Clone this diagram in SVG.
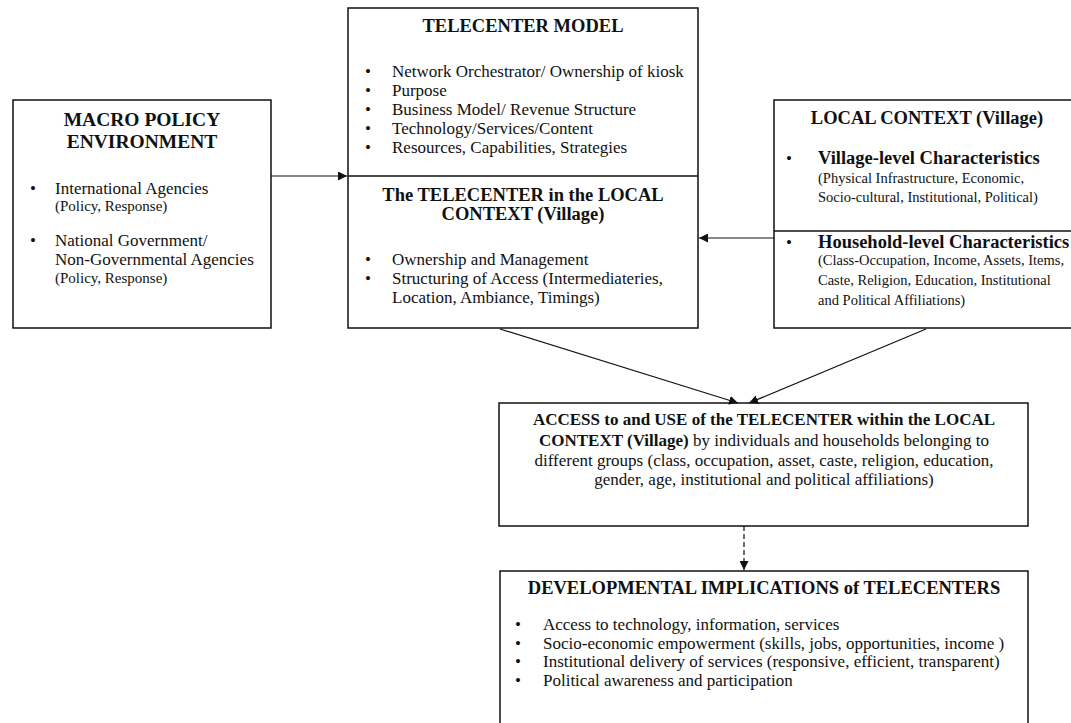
<svg xmlns="http://www.w3.org/2000/svg" width="1071" height="723" viewBox="0 0 1071 723">
<style>
text{font-family:"Liberation Serif","Times New Roman",serif;fill:#111}
.box{fill:#fff;stroke:#111;stroke-width:1.5}
.ln{stroke:#111;stroke-width:1.2;fill:none}
.t{font-weight:bold;font-size:18.5px}
.b{font-size:17px}
.s{font-size:15px}
.ls{font-size:14.5px}
.c{text-anchor:middle}
.bb{font-weight:bold;font-size:18.5px}
</style>
<defs>
<marker id="ah" viewBox="0 0 10 10" refX="10" refY="5" markerWidth="9" markerHeight="9" markerUnits="userSpaceOnUse" orient="auto"><path d="M0,0L10,5L0,10z" fill="#111"/></marker>
</defs>
<rect width="1071" height="723" fill="#fff"/>

<g id="macro">
<rect class="box" x="13" y="100" width="258" height="228"/>
<text class="c" x="142" y="126" style="font-weight:bold;font-size:19.5px">MACRO POLICY</text>
<text class="c" x="142" y="148" style="font-weight:bold;font-size:19.5px">ENVIRONMENT</text>
<text class="b" x="30" y="194">•</text>
<text class="b" x="55" y="194">International Agencies</text>
<text class="s" x="55" y="211">(Policy, Response)</text>
<text class="b" x="30" y="246">•</text>
<text class="b" x="55" y="246">National Government/</text>
<text class="b" x="55" y="265">Non-Governmental Agencies</text>
<text class="s" x="55" y="283">(Policy, Response)</text>
</g>

<g id="telecenter">
<rect class="box" x="348" y="8" width="350" height="320"/>
<line class="ln" x1="348" y1="176" x2="698" y2="176" style="stroke-width:1.5"/>
<text class="t c" x="523" y="32">TELECENTER MODEL</text>
<text class="b" x="365" y="77">•</text><text class="b" x="392" y="77">Network Orchestrator/ Ownership of kiosk</text>
<text class="b" x="365" y="96">•</text><text class="b" x="392" y="96">Purpose</text>
<text class="b" x="365" y="115">•</text><text class="b" x="392" y="115">Business Model/ Revenue Structure</text>
<text class="b" x="365" y="134">•</text><text class="b" x="392" y="134">Technology/Services/Content</text>
<text class="b" x="365" y="153">•</text><text class="b" x="392" y="153">Resources, Capabilities, Strategies</text>
<text class="t c" x="523" y="201">The TELECENTER in the LOCAL</text>
<text class="t c" x="523" y="220">CONTEXT (Village)</text>
<text class="b" x="365" y="265">•</text><text class="b" x="392" y="265">Ownership and Management</text>
<text class="b" x="365" y="284">•</text><text class="b" x="392" y="284">Structuring of Access (Intermediateries,</text>
<text class="b" x="392" y="303">Location, Ambiance, Timings)</text>
</g>

<g id="local">
<rect class="box" x="774" y="100" width="310" height="228"/>
<line class="ln" x1="774" y1="231" x2="1071" y2="231" style="stroke-width:1.5"/>
<text class="t c" x="927" y="124">LOCAL CONTEXT (Village)</text>
<text class="b" x="786" y="164">•</text><text class="bb" x="818" y="164">Village-level Characteristics</text>
<text class="ls" x="818" y="183">(Physical Infrastructure, Economic,</text>
<text class="ls" x="818" y="202">Socio-cultural, Institutional, Political)</text>
<text class="b" x="786" y="248">•</text><text class="bb" x="818" y="248">Household-level Characteristics</text>
<text class="ls" x="818" y="265">(Class-Occupation, Income, Assets, Items,</text>
<text class="ls" x="818" y="285">Caste, Religion, Education, Institutional</text>
<text class="ls" x="818" y="305">and Political Affiliations)</text>
</g>

<g id="access">
<rect class="box" x="499" y="403" width="529" height="123"/>
<text class="c b" x="764" y="425" font-weight="bold">ACCESS to and USE of the TELECENTER within the LOCAL</text>
<text class="c b" x="764" y="446"><tspan font-weight="bold">CONTEXT (Village)</tspan> by individuals and households belonging to</text>
<text class="c b" x="764" y="466">different groups (class, occupation, asset, caste, religion, education,</text>
<text class="c b" x="764" y="485">gender, age, institutional and political affiliations)</text>
</g>

<g id="developmental">
<rect class="box" x="500" y="571" width="528" height="170"/>
<text class="t c" x="764" y="594">DEVELOPMENTAL IMPLICATIONS of TELECENTERS</text>
<text class="b" x="515" y="630">•</text><text class="b" x="543" y="630">Access to technology, information, services</text>
<text class="b" x="515" y="648.5">•</text><text class="b" x="543" y="648.5">Socio-economic empowerment (skills, jobs, opportunities, income )</text>
<text class="b" x="515" y="667">•</text><text class="b" x="543" y="667">Institutional delivery of services (responsive, efficient, transparent)</text>
<text class="b" x="515" y="685.5">•</text><text class="b" x="543" y="685.5">Political awareness and participation</text>
</g>

<g id="connectors">
<line class="ln" x1="271" y1="176" x2="347" y2="176" marker-end="url(#ah)"/>
<line class="ln" x1="774" y1="238" x2="699" y2="238" marker-end="url(#ah)"/>
<line class="ln" x1="500" y1="329" x2="738" y2="403" marker-end="url(#ah)"/>
<line class="ln" x1="926" y1="329" x2="749" y2="403" marker-end="url(#ah)"/>
<line class="ln" x1="744" y1="526" x2="744" y2="570" stroke-dasharray="5,3" marker-end="url(#ah)"/>
</g>
</svg>
